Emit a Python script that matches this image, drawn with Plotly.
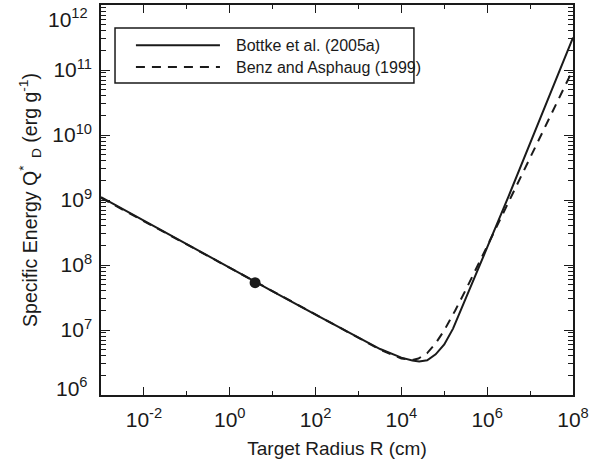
import plotly.graph_objects as go

# Bottke et al. (2005a) curve
R_bottke = [1e-3, 1e-2, 1e-1, 1, 10, 100, 1e3, 3.2e3, 1e4, 1.8e4, 2.6e4, 4e4,
            6.3e4, 1e5, 1.6e5, 2.5e5, 4e5, 1e6, 3.2e6, 1e7, 3.2e7, 1e8]
Q_bottke = [1.11e9, 4.79e8, 2.09e8, 9.0e7, 3.94e7, 1.72e7, 7.6e6, 5.1e6, 3.76e6,
            3.39e6, 3.27e6, 3.43e6, 4.22e6, 6.0e6, 1.05e7, 2.09e7, 4.47e7,
            1.86e8, 1.17e9, 7.6e9, 4.9e10, 3.16e11]

# Benz and Asphaug (1999) curve
R_benz = [1e-3, 1e-2, 1e-1, 1, 10, 100, 1e3, 3.2e3, 1e4, 1.8e4, 2.5e4, 4e4,
          6.3e4, 1e5, 1.8e5, 3.2e5, 1e6, 3.2e6, 1e7, 3.2e7, 1e8]
Q_benz = [1.08e9, 4.72e8, 2.06e8, 9.0e7, 3.93e7, 1.71e7, 7.5e6, 5.0e6, 3.64e6,
          3.45e6, 3.64e6, 4.42e6, 6.25e6, 9.9e6, 2.0e7, 4.2e7, 1.95e8, 9.4e8,
          4.47e9, 2.17e10, 1.02e11]

# Marked point
R_point = [3.9]
Q_point = [5.35e7]

x_tick_vals = [1e-2, 1e0, 1e2, 1e4, 1e6, 1e8]
x_tick_text = ["10<sup>-2</sup>", "10<sup>0</sup>", "10<sup>2</sup>",
               "10<sup>4</sup>", "10<sup>6</sup>", "10<sup>8</sup>"]
x_minor_vals = [1e-1, 1e1, 1e3, 1e5, 1e7]
y_tick_vals = [1e6, 1e7, 1e8, 1e9, 1e10, 1e11, 1e12]
y_tick_text = ["10<sup>6</sup>", "10<sup>7</sup>", "10<sup>8</sup>", "10<sup>9</sup>",
               "10<sup>10</sup>", "10<sup>11</sup>", "10<sup>12</sup>"]
y_minor_vals = [m * 10 ** e for e in range(6, 12) for m in range(2, 10)]

legend_labels = ["Bottke et al. (2005a)", "Benz and Asphaug (1999)"]

FONT = "Liberation Sans, Arial, Helvetica, sans-serif"
INK = "#1a1a1a"

fig = go.Figure()
fig.add_trace(go.Scatter(x=R_benz, y=Q_benz, mode="lines",
                         line=dict(color=INK, width=2, dash="9px,7px"),
                         name=legend_labels[1], showlegend=False))
fig.add_trace(go.Scatter(x=R_bottke, y=Q_bottke, mode="lines",
                         line=dict(color=INK, width=2),
                         name=legend_labels[0], showlegend=False))
fig.add_trace(go.Scatter(x=R_point, y=Q_point, mode="markers",
                         marker=dict(color=INK, size=11), showlegend=False))

# manual legend box
fig.add_shape(type="rect", xref="paper", yref="paper", x0=0.0297, x1=0.663,
              y0=0.80, y1=0.941, line=dict(color=INK, width=1.5),
              fillcolor="white", layer="above")
fig.add_shape(type="line", xref="paper", yref="paper", x0=0.074, x1=0.252,
              y0=0.897, y1=0.897, line=dict(color=INK, width=2), layer="above")
fig.add_shape(type="line", xref="paper", yref="paper", x0=0.074, x1=0.252,
              y0=0.841, y1=0.841, line=dict(color=INK, width=2, dash="9px,7px"),
              layer="above")
for lab, yy in zip(legend_labels, [0.897, 0.841]):
    fig.add_annotation(xref="paper", yref="paper", x=0.282, y=yy, text=lab,
                       showarrow=False, xanchor="left", yanchor="middle",
                       font=dict(family=FONT, size=16, color=INK))

# end labels of the y axis are nudged inward (as in the reference), so they are
# written as annotations instead of tick labels
y_tick_text_axis = [""] + y_tick_text[1:-1] + [""]
for txt, yy in [(y_tick_text[0], 0.02), (y_tick_text[-1], 0.966)]:
    fig.add_annotation(xref="paper", yref="paper", x=-0.024, y=yy, text=txt,
                       showarrow=False, xanchor="right", yanchor="middle",
                       font=dict(family=FONT, size=21, color=INK))

fig.update_xaxes(type="log", range=[-3, 8], showline=True, linecolor=INK,
                 linewidth=1.5, mirror="ticks", ticks="inside", ticklen=8,
                 tickcolor=INK, tickwidth=1.2, tickvals=x_tick_vals,
                 ticktext=x_tick_text, showgrid=False, zeroline=False,
                 ticklabelstandoff=5, ticklabeloverflow="allow",
                 tickfont=dict(family=FONT, size=21, color=INK),
                 minor=dict(ticks="inside", ticklen=4, tickvals=x_minor_vals,
                            tickcolor=INK, showgrid=False),
                 title=dict(text="Target Radius R (cm)", standoff=12,
                            font=dict(family=FONT, size=19, color=INK)))
fig.update_yaxes(type="log", range=[6, 12], showline=True, linecolor=INK,
                 linewidth=1.5, mirror="ticks", ticks="inside", ticklen=9,
                 tickcolor=INK, tickwidth=1.2, tickvals=y_tick_vals,
                 ticktext=y_tick_text_axis, showgrid=False, zeroline=False,
                 ticklabelstandoff=3, ticklabeloverflow="allow",
                 tickfont=dict(family=FONT, size=21, color=INK),
                 minor=dict(ticks="inside", ticklen=5, tickvals=y_minor_vals,
                            tickcolor=INK, showgrid=False),
                 title=dict(text="Specific Energy Q<sup>*</sup><sub>  D</sub> (erg g<sup>-1</sup>)",
                            standoff=10,
                            font=dict(family=FONT, size=19.5, color=INK)))

fig.update_layout(width=601, height=473, plot_bgcolor="white",
                  paper_bgcolor="white",
                  margin=dict(l=101, r=28, t=5, b=78, autoexpand=False))

fig.write_html("out.html")
